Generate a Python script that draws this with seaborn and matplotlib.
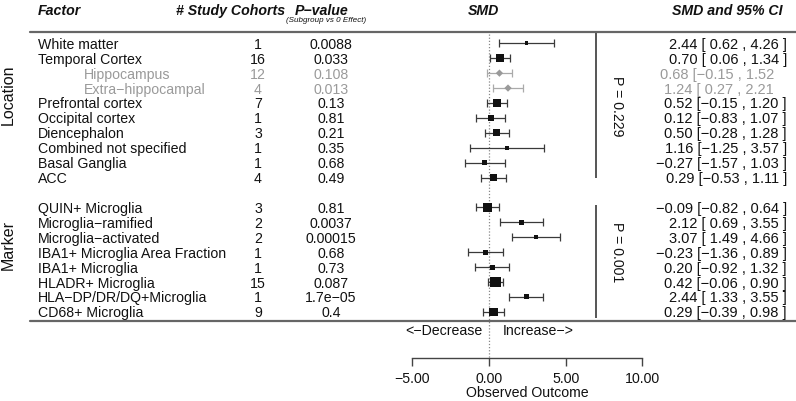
import numpy as np
import pandas as pd
import matplotlib
matplotlib.use("Agg")
import matplotlib.pyplot as plt
import matplotlib.transforms as mtransforms
import seaborn as sns

# Location subgroups
loc_factors = ['White matter', 'Temporal Cortex', 'Hippocampus', 'Extra−hippocampal',
               'Prefrontal cortex', 'Occipital cortex', 'Diencephalon',
               'Combined not specified', 'Basal Ganglia', 'ACC']
loc_cohorts = [1, 16, 12, 4, 7, 1, 3, 1, 1, 4]
loc_pvals = ['0.0088', '0.033', '0.108', '0.013', '0.13', '0.81', '0.21', '0.35', '0.68', '0.49']
loc_smd = [2.44, 0.70, 0.68, 1.24, 0.52, 0.12, 0.50, 1.16, -0.27, 0.29]
loc_lo = [0.62, 0.06, -0.15, 0.27, -0.15, -0.83, -0.28, -1.25, -1.57, -0.53]
loc_hi = [4.26, 1.34, 1.52, 2.21, 1.20, 1.07, 1.28, 3.57, 1.03, 1.11]
loc_weight = [12, 56, 16, 16, 49, 25, 42, 12, 20, 42]
loc_sub = [False, False, True, True, False, False, False, False, False, False]

# Marker subgroups
mk_factors = ['QUIN+ Microglia', 'Microglia−ramified', 'Microglia−activated',
              'IBA1+ Microglia Area Fraction', 'IBA1+ Microglia', 'HLADR+ Microglia',
              'HLA−DP/DR/DQ+Microglia', 'CD68+ Microglia']
mk_cohorts = [3, 2, 2, 1, 1, 15, 1, 9]
mk_pvals = ['0.81', '0.0037', '0.00015', '0.68', '0.73', '0.087', '1.7e−05', '0.4']
mk_smd = [-0.09, 2.12, 3.07, -0.23, 0.20, 0.42, 2.44, 0.29]
mk_lo = [-0.82, 0.69, 1.49, -1.36, -0.92, -0.06, 1.33, -0.39]
mk_hi = [0.64, 3.55, 4.66, 0.89, 1.32, 0.90, 3.55, 0.98]
mk_weight = [64, 16, 16, 20, 20, 100, 20, 56]

group_names = ['Location', 'Marker']
group_p = ['P = 0.229', 'P = 0.001']
x_ticks = [-5, 0, 5, 10]

# build table, one empty row between the two groups
loc = pd.DataFrame({'factor': loc_factors, 'cohorts': loc_cohorts, 'pval': loc_pvals,
                    'smd': loc_smd, 'lo': loc_lo, 'hi': loc_hi,
                    'weight': loc_weight, 'sub': loc_sub})
loc['row'] = np.arange(len(loc))
mk = pd.DataFrame({'factor': mk_factors, 'cohorts': mk_cohorts, 'pval': mk_pvals,
                   'smd': mk_smd, 'lo': mk_lo, 'hi': mk_hi,
                   'weight': mk_weight, 'sub': False})
mk['row'] = np.arange(len(mk)) + len(loc) + 1
df = pd.concat([loc, mk], ignore_index=True)


def fmt(v):
    return f"{v:.2f}".replace('-', '−')


def ci_label(r):
    lo_txt = fmt(r.lo) if r.lo < 0 else ' ' + fmt(r.lo)
    s = f"{fmt(r.smd)} [{lo_txt} , {fmt(r.hi)}"
    return s if r['sub'] else s + ' ]'


df['ci'] = df.apply(ci_label, axis=1)

sns.set_theme(style='white')
plt.rcParams['font.family'] = ['Liberation Sans', 'DejaVu Sans']

W, H = 796, 401
fig = plt.figure(figsize=(W / 100, H / 100), dpi=100)
ax = fig.add_axes([0, 0, 1, 1])

# pixel layout: zero at 489px, 15.33 px per unit; first row 43.3px, 14.92 px per row
x0, xs = 489, 15.33
y0, ys = 43.3, 14.92
ax.set_xlim(-x0 / xs, (W - x0) / xs)
ax.set_ylim((H - y0) / ys, -y0 / ys)


def ky(px):
    return (px - y0) / ys


def fx(px):
    return px / W


trans = mtransforms.blended_transform_factory(fig.transFigure, ax.transData)

black = '#111111'
grey = '#9a9a9a'
line_col = '#3a3a3a'
fs = 10.2

main = df[~df['sub']]
sub = df[df['sub']]

ax.errorbar(main.smd, main.row, xerr=[main.smd - main.lo, main.hi - main.smd],
            fmt='none', ecolor=line_col, elinewidth=0.9, capsize=2.6, capthick=0.9, zorder=2)
ax.errorbar(sub.smd, sub.row, xerr=[sub.smd - sub.lo, sub.hi - sub.smd],
            fmt='none', ecolor='#aaaaaa', elinewidth=0.9, capsize=2.6, capthick=0.9, zorder=2)
sns.scatterplot(data=main, x='smd', y='row', size='weight', sizes=(0, 62), size_norm=(0, 100),
                marker='s', color=black, edgecolor='none', linewidth=0, legend=False, ax=ax, zorder=3)
sns.scatterplot(data=sub, x='smd', y='row', marker='D', s=14, color=grey,
                edgecolor='none', linewidth=0, legend=False, ax=ax, zorder=3)

# reference line and separators
ax.vlines(0, ky(34), ky(358), colors='#888888', linestyles=(0, (1, 1.5)), linewidth=0.9, zorder=1)
ax.axhline(ky(32), xmin=fx(30), xmax=1, color='#666666', linewidth=1.6)
ax.axhline(ky(321), xmin=fx(30), xmax=1, color='#666666', linewidth=1.6)

# group p-value brackets
bx = (596 - x0) / xs
ax.vlines(bx, ky(33), ky(178), colors='#555555', linewidth=1.4)
ax.vlines(bx, ky(205), ky(318), colors='#555555', linewidth=1.4)
for name, p, yc_lab, yc_p in zip(group_names, group_p, [95, 245], [106, 252]):
    ax.text(fx(617), ky(yc_p), p, transform=trans, rotation=-90, ha='center', va='center',
            fontsize=fs, color=black)
    ax.text(fx(8), ky(yc_lab), name, transform=trans, rotation=90, ha='center', va='center',
            fontsize=11.5, color=black)

# table columns
for _, r in df.iterrows():
    c = grey if r['sub'] else black
    ax.text(fx(84 if r['sub'] else 38), r.row, r.factor, transform=trans, ha='left',
            va='center_baseline', fontsize=fs, color=c)
    ax.text(fx(258), r.row, str(r.cohorts), transform=trans, ha='center',
            va='center_baseline', fontsize=fs, color=c)
    ax.text(fx(331), r.row, r.pval, transform=trans, ha='center',
            va='center_baseline', fontsize=fs, color=c)
    ax.text(fx(774 if r['sub'] else 787), r.row, r.ci, transform=trans, ha='right',
            va='center_baseline', fontsize=10.5, color=c)

# headers
hdr = dict(transform=trans, fontsize=fs, fontweight='bold', fontstyle='italic',
           va='center_baseline', color=black)
ax.text(fx(38), ky(9), 'Factor', ha='left', **hdr)
ax.text(fx(231), ky(9), '# Study Cohorts', ha='center', **hdr)
ax.text(fx(322), ky(9), 'P−value', ha='center', **hdr)
ax.text(fx(484), ky(9), 'SMD', ha='center', **hdr)
ax.text(fx(782), ky(9), 'SMD and 95% CI', ha='right', **hdr)
ax.text(fx(326), ky(19.5), '(Subgroup vs 0 Effect)', transform=trans, ha='center',
        va='center_baseline', fontsize=5.8, fontstyle='italic', color=black)

ax.text(fx(482), ky(329), '<−Decrease', transform=trans, ha='right', va='center_baseline',
        fontsize=fs, color=black)
ax.text(fx(503), ky(329), 'Increase−>', transform=trans, ha='left', va='center_baseline',
        fontsize=fs, color=black)

# x axis
for s in ['top', 'left', 'right']:
    ax.spines[s].set_visible(False)
ax.spines['bottom'].set_position(('data', ky(358)))
ax.spines['bottom'].set_bounds(x_ticks[0], x_ticks[-1])
ax.spines['bottom'].set_color('#444444')
ax.spines['bottom'].set_linewidth(1.0)
ax.set_xticks(x_ticks)
ax.set_xticklabels([fmt(t) for t in x_ticks])
ax.tick_params(axis='x', direction='out', length=5.8, width=1.0, color='#444444',
               labelsize=fs, pad=4, labelcolor=black, bottom=True)
ax.set_yticks([])
ax.set_xlabel('')
ax.set_ylabel('')
ax.text(fx(527.6), ky(393), 'Observed Outcome', transform=trans, ha='center',
        va='center', fontsize=fs, color=black)

fig.savefig('out.png', dpi=100)
